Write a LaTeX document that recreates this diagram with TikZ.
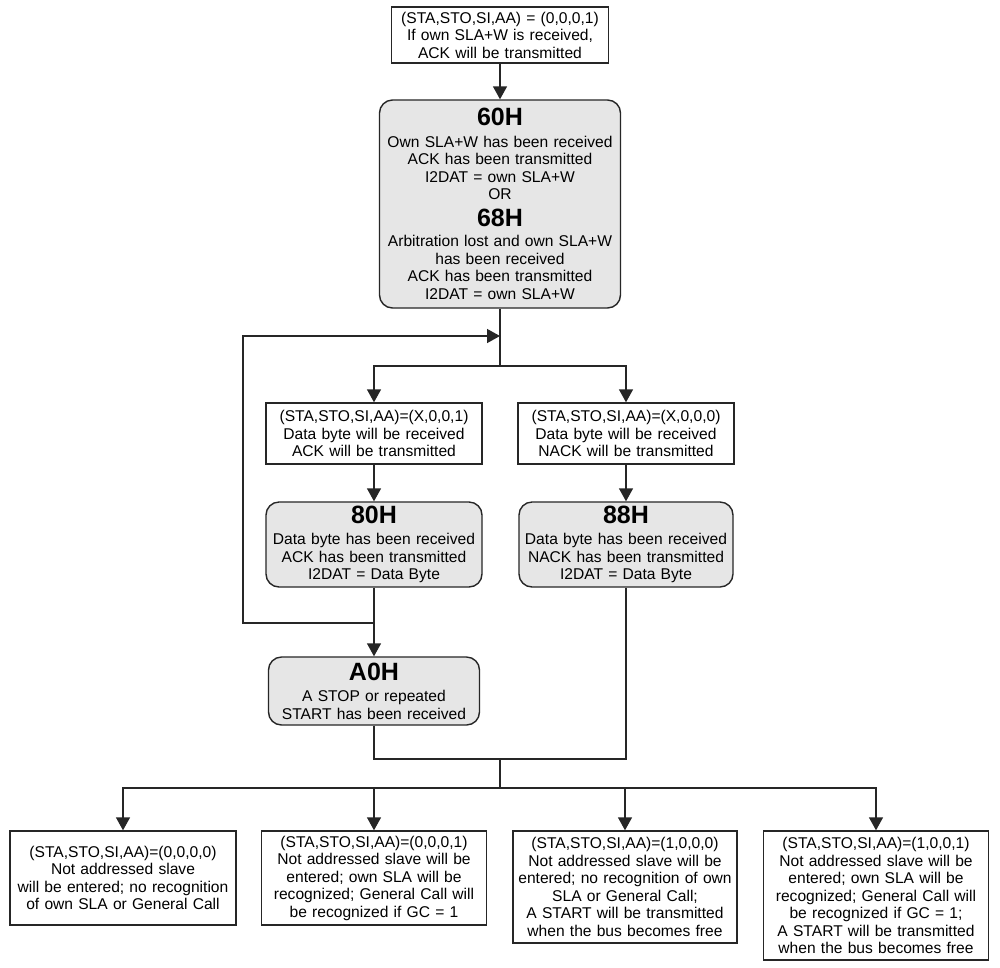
\documentclass[tikz,border=0pt]{standalone}
\usepackage{fontspec}
\setmainfont{Liberation Sans}
\usetikzlibrary{arrows.meta}
\newcommand\nf{\fontsize{15.6}{17.5}\selectfont}
\newcommand\hf{\fontsize{25}{25}\selectfont\bfseries}
\definecolor{lin}{HTML}{262626}
\definecolor{boxfill}{HTML}{E6E6E6}
\tikzset{
  pbox/.style={draw=lin, line width=1.4pt, inner sep=0pt, align=center, font=\nf, fill=white},
  rbox/.style={pbox, fill=boxfill, rounded corners=13pt},
  conn/.style={draw=lin, line width=1.4pt},
  arr/.style={conn, -{Triangle[width=14pt,length=13pt]}},
}
\begin{document}
\begin{tikzpicture}[x=1pt,y=-1pt]
\fill[white] (0,0) rectangle (1000,967);
\useasboundingbox (0,0) rectangle (1000,967);

\node[pbox, minimum width=217pt, minimum height=56pt, text width=213pt] (top) at (500,35)
  {(STA,STO,SI,AA) = (0,0,0,1)\\ If own SLA+W is received,\\ ACK will be transmitted};

\node[rbox, minimum width=241pt, minimum height=208pt, text width=236pt] (s60) at (500,204)
  {{\hf 60H}\\[4pt] Own SLA+W has been received\\ ACK has been transmitted\\ I2DAT = own SLA+W\\ OR\\[8pt]
   {\hf 68H}\\[3pt] Arbitration lost and own SLA+W\\ has been received\\ ACK has been transmitted\\ I2DAT = own SLA+W};

\node[pbox, minimum width=216pt, minimum height=61pt, text width=212pt] (c1) at (374,433.5)
  {(STA,STO,SI,AA)=(X,0,0,1)\\ Data byte will be received\\ ACK will be transmitted};
\node[pbox, minimum width=216pt, minimum height=61pt, text width=212pt] (c2) at (626,433.5)
  {(STA,STO,SI,AA)=(X,0,0,0)\\ Data byte will be received\\ NACK will be transmitted};

\node[rbox, minimum width=216pt, minimum height=85pt, text width=212pt] (s80) at (374,544.5)
  {{\hf 80H}\\[4pt] Data byte has been received\\ ACK has been transmitted\\ I2DAT = Data Byte};
\node[rbox, minimum width=214pt, minimum height=85pt, text width=210pt] (s88) at (626,544.5)
  {{\hf 88H}\\[4pt] Data byte has been received\\ NACK has been transmitted\\ I2DAT = Data Byte};

\node[rbox, minimum width=211pt, minimum height=68pt, text width=207pt] (sA0) at (374,691)
  {{\hf A0H}\\[4pt] A STOP or repeated\\ START has been received};

\node[pbox, minimum width=226pt, minimum height=94pt, text width=222pt] (b1) at (123,878)
  {(STA,STO,SI,AA)=(0,0,0,0)\\ Not addressed slave\\ will be entered; no recognition\\ of own SLA or General Call};
\node[pbox, minimum width=225pt, minimum height=94pt, text width=221pt] (b2) at (374,878)
  {(STA,STO,SI,AA)=(0,0,0,1)\\ Not addressed slave will be\\ entered; own SLA will be\\ recognized; General Call will\\ be recognized if GC = 1};
\node[pbox, minimum width=224pt, minimum height=112pt, text width=220pt] (b3) at (625,887)
  {(STA,STO,SI,AA)=(1,0,0,0)\\ Not addressed slave will be\\ entered; no recognition of own\\ SLA or General Call;\\ A START will be transmitted\\ when the bus becomes free};
\node[pbox, minimum width=225pt, minimum height=129pt, text width=221pt] (b4) at (876,895.5)
  {(STA,STO,SI,AA)=(1,0,0,1)\\ Not addressed slave will be\\ entered; own SLA will be\\ recognized; General Call will\\ be recognized if GC = 1;\\ A START will be transmitted\\ when the bus becomes free};

\coordinate (lt) at (500,336);
\coordinate (j1) at (500,366);
\coordinate (jl) at (374,623);
\coordinate (lc) at (243,623);
\coordinate (j2) at (500,759);
\coordinate (j3) at (500,788);

\draw[arr] (top) -- (top.south |- s60.north);
\draw[conn] (s60.south) -- (j1);
\draw[arr] (j1) -| (c1.north);
\draw[arr] (j1) -| (c2.north);
\draw[arr] (c1) -- (s80);
\draw[arr] (c2) -- (s88);
\draw[arr] (s80) -- (sA0);
\draw[arr] (jl) -- (lc) |- (lt);
\draw[conn] (sA0.south) |- (j2);
\draw[conn] (s88.south) |- (j2);
\draw[conn] (j2) -- (j3);
\draw[arr] (j3) -| (b1.north);
\draw[arr] (j3) -| (b2.north);
\draw[arr] (j3) -| (b3.north);
\draw[arr] (j3) -| (b4.north);
\end{tikzpicture}
\end{document}
